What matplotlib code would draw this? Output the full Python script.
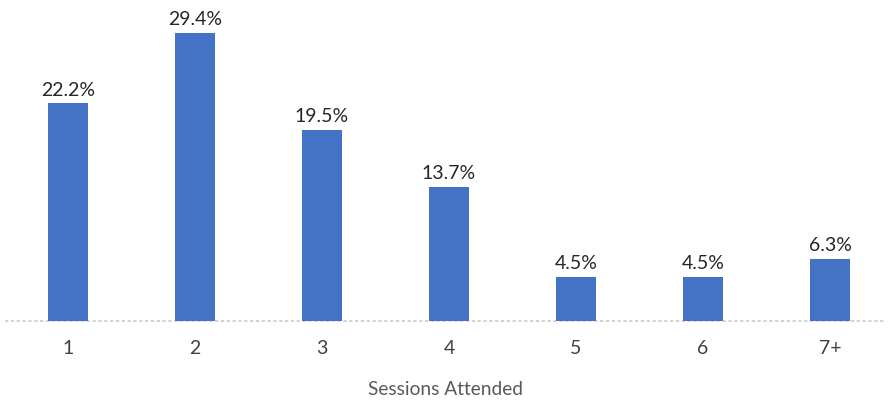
import matplotlib
matplotlib.use('Agg')
from matplotlib import pyplot as plt

# dados do gráfico
sessions = ['1', '2', '3', '4', '5', '6', '7+']
percent = [22.2, 29.4, 19.5, 13.7, 4.5, 4.5, 6.3]

plt.rcParams['font.family'] = ['Lato', 'DejaVu Sans']

fig = plt.figure(figsize=(8.9, 4.0), dpi=100)
ax = fig.add_axes([5 / 890, 79 / 400, 880 / 890, 313.6 / 400])

x = list(range(len(sessions)))
ax.bar(x, percent, width=0.315, color='#4472C4', zorder=2)

for xi, v in zip(x, percent):
    ax.text(xi, v + 0.5, f'{v}%', ha='center', va='bottom',
            fontsize=14, color='#262626')

ax.set_xlim(-0.496, 6.433)
ax.set_ylim(0, 32)

# linha de base pontilhada
ax.axhline(0, color='#cccccc', linewidth=1.2, linestyle=(0, (2, 1.5)),
           zorder=1, clip_on=False)

for s in ax.spines.values():
    s.set_visible(False)
ax.set_yticks([])
ax.set_xticks(x)
ax.set_xticklabels(sessions, fontsize=14, color='#404040')
ax.tick_params(axis='x', length=0, pad=14)
ax.set_xlabel('Sessions Attended', fontsize=13.8, color='#595959', labelpad=17)

fig.savefig('out.png', dpi=100)
